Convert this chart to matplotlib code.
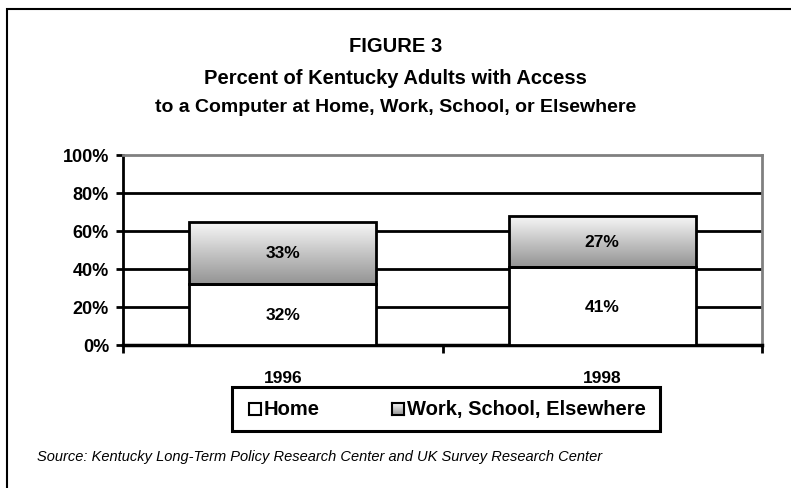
import matplotlib
matplotlib.use("Agg")
import matplotlib.pyplot as plt
import matplotlib.patches as patches
import numpy as np

# data
years = ["1996", "1998"]
home = [32, 41]
work_school = [33, 27]
series_names = ["Home", "Work, School, Elsewhere"]
y_ticks = [0, 20, 40, 60, 80, 100]

plt.rcParams['font.family'] = ['Liberation Sans Narrow', 'Liberation Sans', 'DejaVu Sans']

W, H = 791, 489
fig = plt.figure(figsize=(W / 100, H / 100), dpi=100)
fig.patch.set_facecolor("white")


def fx(px):
    return px / W


def fy(py):
    return 1 - py / H


# outer frame (only left and top visible in the crop)
fig.add_artist(patches.Rectangle((fx(7), -0.2), 2, fy(10) + 0.2, transform=fig.transFigure,
                                 fill=False, edgecolor="black", linewidth=1.5))

ax = fig.add_axes([fx(123), fy(346), fx(762) - fx(123), fy(156) - fy(346)])
x = np.arange(len(years))
width = 0.585

# gradient for the stacked part, light on top
grad = np.linspace(0.97, 0.58, 100).reshape(-1, 1)

ax.bar(x, home, width, color="white", edgecolor="black", linewidth=2, zorder=3)
for i in range(len(years)):
    x0 = x[i] - width / 2
    x1 = x[i] + width / 2
    y0 = home[i]
    y1 = home[i] + work_school[i]
    ax.imshow(grad, cmap="gray", vmin=0, vmax=1, extent=[x0, x1, y0, y1],
              aspect="auto", zorder=2.5, interpolation="bilinear")
ax.bar(x, work_school, width, bottom=home, color="none", edgecolor="black", linewidth=2, zorder=3)

for i in range(len(years)):
    ax.text(x[i], home[i] / 2, "%d%%" % home[i], ha="center", va="center",
            fontsize=12.5, fontweight="bold", zorder=4)
    ax.text(x[i], home[i] + work_school[i] / 2, "%d%%" % work_school[i], ha="center",
            va="center", fontsize=12.5, fontweight="bold", zorder=4)

ax.set_xlim(-0.5, len(years) - 0.5)
ax.set_ylim(0, 100)
ax.set_yticks(y_ticks)
ax.set_yticklabels(["%d%%" % v for v in y_ticks], fontsize=13, fontweight="bold")
ax.set_xticks([-0.5, 0.5, 1.5])
ax.set_xticklabels([])
ax.tick_params(axis="x", length=6, width=2, direction="out")
ax.tick_params(axis="y", length=5, width=2, direction="out", pad=5)
for v in y_ticks[1:-1]:
    ax.axhline(v, color="black", linewidth=2, zorder=1)
ax.spines["left"].set_linewidth(2)
ax.spines["bottom"].set_linewidth(2.5)
ax.spines["top"].set_color("#808080")
ax.spines["right"].set_color("#808080")
ax.spines["top"].set_linewidth(2)
ax.spines["right"].set_linewidth(2)

for i, yr in enumerate(years):
    ax.text(x[i], -17, yr, ha="center", va="center", fontsize=12.5, fontweight="bold")

# titles
fig.text(0.5, fy(46), "FIGURE 3", ha="center", va="center", fontsize=14.5, fontweight="bold")
fig.text(0.5, fy(79), "Percent of Kentucky Adults with Access", ha="center", va="center",
         fontsize=14.5, fontweight="bold")
fig.text(0.5, fy(108), "to a Computer at Home, Work, School, or Elsewhere", ha="center",
         va="center", fontsize=14, fontweight="bold")

# legend box drawn by hand
fig.add_artist(patches.Rectangle((fx(232), fy(432)), fx(660) - fx(232), fy(388) - fy(432),
                                 transform=fig.transFigure, fill=False, edgecolor="black",
                                 linewidth=2.2))
fig.add_artist(patches.Rectangle((fx(249), fy(416)), fx(12), fy(404) - fy(416),
                                 transform=fig.transFigure, facecolor="white",
                                 edgecolor="black", linewidth=1.5))
fig.text(fx(264), fy(410), series_names[0], ha="left", va="center", fontsize=14.5, fontweight="bold")
lax = fig.add_axes([fx(392), fy(416), fx(12), fy(404) - fy(416)])
lax.imshow(grad, cmap="gray", vmin=0, vmax=1, aspect="auto", interpolation="bilinear")
lax.set_xticks([])
lax.set_yticks([])
for s in lax.spines.values():
    s.set_linewidth(1.5)
fig.text(fx(407), fy(410), series_names[1], ha="left", va="center", fontsize=14.5, fontweight="bold")

fig.text(fx(37), fy(457), "Source: Kentucky Long-Term Policy Research Center and UK Survey Research Center",
         ha="left", va="center", fontsize=10.5, style="italic")

fig.savefig("out.png", dpi=100)
